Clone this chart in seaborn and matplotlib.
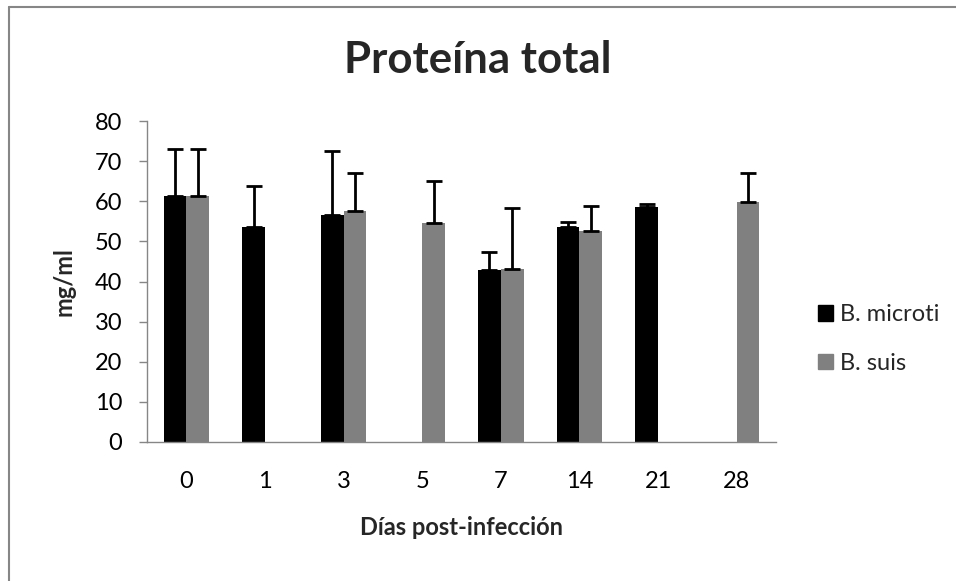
import numpy as np
import pandas as pd
import matplotlib
matplotlib.use("Agg")
import matplotlib.pyplot as plt
import seaborn as sns
from matplotlib.lines import Line2D

days = ["0", "1", "3", "5", "7", "14", "21", "28"]
series = ["B. microti", "B. suis"]
microti_mean = [61.3, 53.7, 56.5, np.nan, 42.8, 53.7, 58.5, np.nan]
microti_err = [11.7, 10.2, 16.1, np.nan, 4.6, 1.2, 0.8, np.nan]
suis_mean = [61.3, np.nan, 57.5, 54.6, 43.1, 52.7, np.nan, 59.8]
suis_err = [11.7, np.nan, 9.5, 10.4, 15.2, 6.2, np.nan, 7.2]
colors = ["#000000", "#808080"]

rows = []
for name, means, errs in [(series[0], microti_mean, microti_err),
                          (series[1], suis_mean, suis_err)]:
    for d, m, e in zip(days, means, errs):
        if not np.isnan(m):
            rows.append({"day": d, "serie": name, "value": m, "err": e})
df = pd.DataFrame(rows)

sns.set_style("white")
plt.rcParams["font.family"] = ["Lato", "DejaVu Sans"]

fig = plt.figure(figsize=(9.56, 5.81), dpi=100)
ax = fig.add_axes([147/956, 1-442/581, (776-147)/956, (442-121)/581])

sns.barplot(data=df, x="day", y="value", hue="serie", order=days,
            hue_order=series, palette=colors, width=0.58, errorbar=None,
            saturation=1, ax=ax, legend=False, linewidth=0)

for cont, name in zip(ax.containers, series):
    sub = df[df["serie"] == name].set_index("day").reindex(days).dropna()
    for bar, (_, r) in zip(cont, sub.iterrows()):
        xc = bar.get_x() + bar.get_width() / 2
        ax.errorbar([xc], [r["value"]], yerr=[[0], [r["err"]]], fmt="none",
                    ecolor="black", elinewidth=2, capsize=5.5, capthick=2,
                    zorder=1)

ax.set_ylim(0, 80)
ax.set_yticks(range(0, 81, 10))
ax.set_xlim(-0.5, len(days) - 0.5)
ax.tick_params(axis="x", which="major", length=0, pad=21, labelsize=17,
               labelcolor="black")
ax.set_xticks(np.arange(-0.5, len(days)), minor=True)
ax.tick_params(axis="x", which="minor", length=5.8, color="#868686", width=1)
ax.tick_params(axis="y", length=5.8, color="#868686", width=1, pad=12,
               labelsize=17, labelcolor="black", left=True)
for s in ["top", "right"]:
    ax.spines[s].set_visible(False)
for s in ["left", "bottom"]:
    ax.spines[s].set_color("#868686")
    ax.spines[s].set_linewidth(1)

ax.set_xlabel("Días post-infección", fontsize=17, fontweight="bold", labelpad=17)
ax.set_ylabel("mg/ml", fontsize=17, fontweight="bold", labelpad=14)

fig.text(0.5, 1 - 60/581, "Proteína total", ha="center", va="center",
         fontsize=31.5, fontweight="bold")

handles = [matplotlib.patches.Patch(facecolor=c, edgecolor=c) for c in colors]
fig.legend(handles, series, loc="center left",
           bbox_to_anchor=(818/956, 1 - 339/581), frameon=False,
           borderpad=0, borderaxespad=0,
           fontsize=17, handlelength=0.62, handleheight=0.62,
           handletextpad=0.33, labelspacing=1.15)

fig.add_artist(Line2D([9/956, 9/956], [0, 1 - 7/581], color="#868686",
                      lw=1.5, transform=fig.transFigure))
fig.add_artist(Line2D([9/956, 1], [1 - 7/581, 1 - 7/581], color="#868686",
                      lw=1.5, transform=fig.transFigure))

fig.savefig("out.png", dpi=100)
